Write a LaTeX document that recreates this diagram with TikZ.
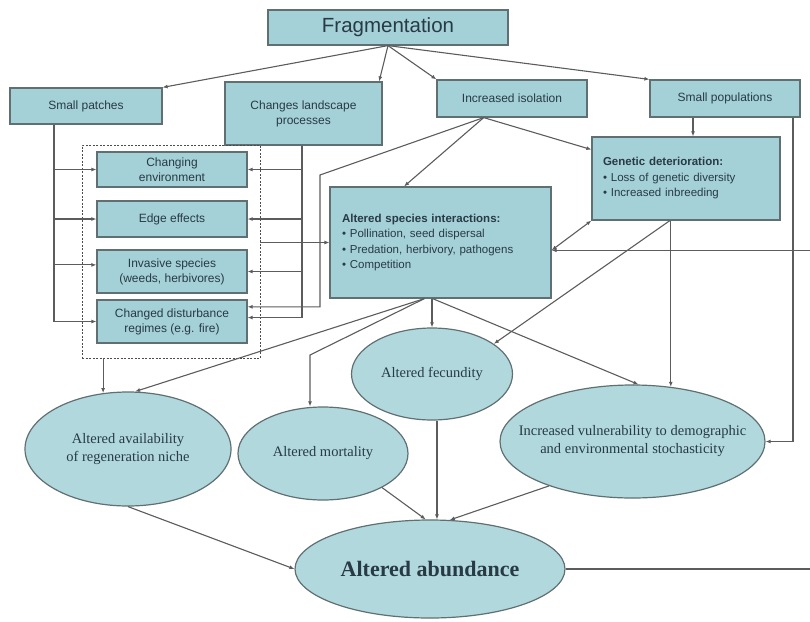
\documentclass[tikz,border=0pt]{standalone}
\usepackage{fontspec}
\setmainfont{Liberation Serif}
\setsansfont{Liberation Sans}
\usepackage{tikz}
\usetikzlibrary{arrows.meta, positioning, shapes.geometric, calc}
\definecolor{boxfill}{RGB}{164,209,215}
\definecolor{ovalfill}{RGB}{176,216,221}
\definecolor{rimcol}{RGB}{96,112,114}
\definecolor{wirecol}{RGB}{92,92,92}
\definecolor{inkcol}{RGB}{40,58,68}

\begin{document}
\begin{tikzpicture}[x=1pt, y=-1pt,
  box/.style={draw=rimcol, line width=1.2pt, fill=boxfill, align=center, inner sep=2pt,
    text=inkcol, font=\sffamily\fontsize{12}{15}\selectfont},
  listbox/.style={box, align=left, font=\sffamily\fontsize{11.5}{15.5}\selectfont},
  oval/.style={ellipse, draw=rimcol, line width=1.2pt, fill=ovalfill, align=center, inner sep=0pt,
    text=inkcol, font=\fontsize{14.5}{18}\selectfont},
  groupbox/.style={draw=black!70, line width=0.9pt, dash pattern=on 2pt off 1.5pt},
  wire/.style={wirecol, line width=1.1pt},
  arr/.style={wire, -{Latex[length=5pt,width=4pt]}},
  arrboth/.style={wire, {Latex[length=5pt,width=4pt]}-{Latex[length=5pt,width=4pt]}}]
  \useasboundingbox (0,0) rectangle (810,621);
  \clip (0,0) rectangle (810,621);

  % Top row
  \node[box, minimum width=240, minimum height=35, font=\sffamily\fontsize{20.5}{24}\selectfont] (frag) at (388,27.5) {Fragmentation};
  \node[box, minimum width=152, minimum height=36] (patches) at (86,106) {Small patches};
  \node[box, minimum width=157, minimum height=63] (landscape) at (303.5,113.5) {Changes landscape\\processes};
  \node[box, minimum width=150, minimum height=37] (isolation) at (512,98.5) {Increased isolation};
  \node[box, minimum width=150, minimum height=37] (smallpop) at (725,98.5) {Small populations};

  % Dashed group of habitat effects
  \node[groupbox, minimum width=178, minimum height=213] (group) at (171,251.5) {};
  \node[box, minimum width=150, minimum height=35] (envbox) at (172,169.5) {Changing\\environment};
  \node[box, minimum width=150, minimum height=36] (edge) at (172,219) {Edge effects};
  \node[box, minimum width=150, minimum height=43] (invasive) at (172,271.5) {Invasive species\\(weeds, herbivores)};
  \node[box, minimum width=150, minimum height=43] (disturb) at (172,321.5) {Changed disturbance\\regimes (e.g. fire)};

  % Interaction and genetic boxes
  \node[listbox, minimum width=221, minimum height=111, text width=197, inner xsep=12] (species) at (440.5,242.5)
    {\textbf{Altered species interactions:}\\\textbullet\ Pollination, seed dispersal\\\textbullet\ Predation, herbivory, pathogens\\\textbullet\ Competition};
  \node[listbox, minimum width=188, minimum height=83, text width=166, inner xsep=11] (genetic) at (686,178.5)
    {\textbf{Genetic deterioration:}\\\textbullet\ Loss of genetic diversity\\\textbullet\ Increased inbreeding};

  % Outcomes
  \node[oval, minimum width=206, minimum height=114] (avail) at (128,449) {Altered availability\\of regeneration niche};
  \node[oval, minimum width=170, minimum height=93] (mortality) at (323,453.5) {Altered mortality};
  \node[oval, minimum width=161, minimum height=92] (fecundity) at (432,374) {Altered fecundity};
  \node[oval, minimum width=265, minimum height=113, inner xsep=-30pt] (vuln) at (632.5,441.5) {Increased vulnerability to demographic\\and environmental stochasticity};
  \node[oval, minimum width=270, minimum height=98, font=\bfseries\fontsize{22}{26}\selectfont] (abund) at (430,569) {Altered abundance};

  % Bends and buses
  \coordinate (lbus) at (54,0);
  \coordinate (rbus) at (302,0);
  \coordinate (ibend) at (320,175);
  \coordinate (mbend) at (310,355);
  \coordinate (gx) at (693,0);
  \coordinate (spx) at (793,0);
  \coordinate (fbx) at (813,0);

  % From fragmentation
  \draw[arr] (frag.south) -- (patches.north east);
  \draw[arr] (frag.south) -- (landscape.23);
  \draw[arr] (frag.south) -- (isolation.north west);
  \draw[arr] (frag.south) -- (smallpop.north west);

  % Small patches bus
  \draw[wire] (patches.south -| lbus) -- (lbus |- disturb.west);
  \foreach \n/\a in {envbox/180, edge/180, invasive/175, disturb/180}
    \draw[arr] (lbus |- \n.\a) -- (\n.\a);

  % Landscape bus
  \draw[wire] (landscape.south -| rbus) -- (rbus |- disturb.3);
  \foreach \n/\a in {envbox/0, edge/0, invasive/0, disturb/3}
    \draw[arr] (rbus |- \n.\a) -- (\n.\a);

  % Increased isolation
  \draw[arr] (isolation.214) -- (ibend) |- (disturb.11);
  \draw[arr] (isolation.214) -- (species.123);
  \draw[arr] (isolation.214) -- (genetic.163);

  % Small populations
  \draw[arr] (smallpop.south -| gx) -- (genetic.north -| gx);
  \draw[arr] (smallpop.south -| spx) |- (vuln.east);

  % Group and interactions
  \draw[arr] (group.east |- species.west) -- (species.west);
  \draw[arr] (group.south -| avail.114) -- (avail.114);
  \draw[arrboth] (genetic.south west) -- (species.-4);
  \draw[arr] (genetic.249) -- (fecundity.26);
  \draw[arr] (genetic.south -| vuln.55) -- (vuln.55);
  \draw[arr] (species.south -| fecundity.north) -- (fecundity.north);
  \draw[arr] (species.254) -- (mbend) -- (mbend |- mortality.north);
  \draw[arr] (species.254) -- (avail.83);
  \draw[arr] (species.262) -- (vuln.84);

  % Into abundance
  \draw[arr] (avail.south) -- (abund.west);
  \draw[arr] (mortality.-30) -- (abund.95);
  \draw[arr] (fecundity.south -| abund.82) -- (abund.82);
  \draw[arr] (vuln.208) -- (abund.68);

  % Feedback
  \draw[arr] (abund.east) -- (abund.east -| fbx) |- (species.-4);
\end{tikzpicture}
\end{document}
